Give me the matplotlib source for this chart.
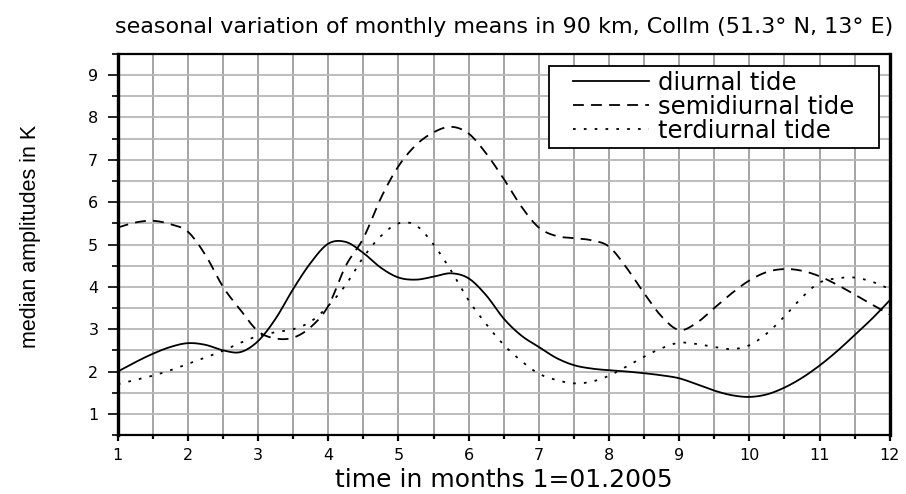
import numpy as np
import matplotlib
matplotlib.use("Agg")
import matplotlib.pyplot as plt
from matplotlib.ticker import MultipleLocator

months = np.arange(1.0, 12.01, 0.25)
diurnal = [2.00, 2.22, 2.42, 2.58, 2.67, 2.63, 2.50, 2.46, 2.72, 3.25, 3.95, 4.57,
           5.02, 5.06, 4.80, 4.45, 4.22, 4.17, 4.24, 4.32, 4.20, 3.80, 3.25, 2.85,
           2.58, 2.32, 2.15, 2.07, 2.03, 2.00, 1.96, 1.91, 1.84, 1.70, 1.55, 1.44,
           1.40, 1.46, 1.62, 1.85, 2.14, 2.48, 2.86, 3.25, 3.68]
semidiurnal = [5.40, 5.52, 5.56, 5.48, 5.30, 4.75, 4.00, 3.45, 2.95, 2.78, 2.80, 3.05,
               3.55, 4.50, 5.15, 6.10, 6.85, 7.35, 7.65, 7.78, 7.62, 7.15, 6.55, 5.90,
               5.40, 5.20, 5.15, 5.10, 4.95, 4.45, 3.85, 3.30, 2.98, 3.15, 3.50, 3.85,
               4.15, 4.35, 4.42, 4.38, 4.25, 4.05, 3.82, 3.58, 3.35]
terdiurnal = [1.70, 1.80, 1.90, 2.03, 2.18, 2.33, 2.49, 2.68, 2.84, 2.93, 3.00, 3.18,
              3.55, 4.05, 4.70, 5.20, 5.50, 5.45, 5.00, 4.38, 3.68, 3.12, 2.63, 2.25,
              1.95, 1.80, 1.72, 1.76, 1.90, 2.12, 2.35, 2.55, 2.68, 2.65, 2.58, 2.53,
              2.62, 2.90, 3.30, 3.75, 4.10, 4.20, 4.22, 4.12, 3.95]
labels = ["diurnal tide", "semidiurnal tide", "terdiurnal tide"]


def smooth_path(x, y, n=10):
    """Catmull-Rom curve through the read points (rendering only)."""
    x = np.asarray(x, float)
    y = np.asarray(y, float)
    px = np.concatenate([[2 * x[0] - x[1]], x, [2 * x[-1] - x[-2]]])
    py = np.concatenate([[2 * y[0] - y[1]], y, [2 * y[-1] - y[-2]]])
    t = np.linspace(0, 1, n, endpoint=False)[:, None]
    xs, ys = [], []
    for arr, out in ((px, xs), (py, ys)):
        p0, p1, p2, p3 = arr[:-3], arr[1:-2], arr[2:-1], arr[3:]
        seg = 0.5 * ((2 * p1) + (-p0 + p2) * t + (2 * p0 - 5 * p1 + 4 * p2 - p3) * t ** 2
                     + (-p0 + 3 * p1 - 3 * p2 + p3) * t ** 3)
        out.append(np.concatenate([seg.T.ravel(), [arr[-2]]]))
    return xs[0], ys[0]


plt.rcParams['font.family'] = ['DejaVu Sans']

fig = plt.figure(figsize=(9.06, 4.94), dpi=100)
ax = fig.add_axes([0.130, 0.1194, 0.852, 0.7713])

styles = ['-', (0, (6, 4)), (0, (1.5, 4.5))]
for series, ls, lab in zip([diurnal, semidiurnal, terdiurnal], styles, labels):
    sx, sy = smooth_path(months, series)
    ax.plot(sx, sy, color='black', lw=1.3, ls=ls, label=lab)

ax.set_xlim(1, 12)
ax.set_ylim(0.5, 9.5)
ax.xaxis.set_major_locator(MultipleLocator(1))
ax.xaxis.set_minor_locator(MultipleLocator(0.5))
ax.set_yticks([1, 2, 3, 4, 5, 6, 7, 8, 9])
ax.yaxis.set_minor_locator(MultipleLocator(0.5))

ax.grid(True, which='both', axis='x', color='#8c8c8c', lw=1.1)
ax.grid(True, which='both', axis='y', color='#b8b8b8', lw=1.3)
ax.set_axisbelow(True)

ax.spines['left'].set_linewidth(2.4)
ax.spines['right'].set_linewidth(2.4)
ax.spines['bottom'].set_linewidth(1.6)
ax.spines['top'].set_linewidth(1.6)

ax.tick_params(axis='y', which='major', direction='out', length=7.5, width=1.2,
               labelsize=11.5, pad=6.5)
ax.tick_params(axis='y', which='minor', direction='out', length=4, width=1.2)
ax.tick_params(axis='x', which='major', direction='out', length=4.2, width=1.6,
               labelsize=11.5, pad=5)
ax.tick_params(axis='x', which='minor', direction='out', length=2.6, width=1.6)

ax.set_title("seasonal variation of monthly means in 90 km, Collm (51.3° N, 13° E)",
             fontsize=16, pad=15)
ax.set_xlabel("time in months 1=01.2005", fontsize=18)
ax.xaxis.label.set_verticalalignment('baseline')
ax.xaxis.set_label_coords(0.5, -0.137)
ax.set_ylabel("median amplitudes in K", fontsize=15.5,
              family=['Liberation Sans Narrow', 'Liberation Sans', 'DejaVu Sans'])
ax.yaxis.set_label_coords(-0.100, 0.52)

leg = ax.legend(loc='upper right', bbox_to_anchor=(0.9547, 0.9554), fontsize=17.5,
                frameon=True, fancybox=False, edgecolor='black', framealpha=1,
                handlelength=3.1, handletextpad=0.4, borderpad=0.0, labelspacing=0.0,
                borderaxespad=0)
frame = leg.get_frame()
frame.set_linewidth(1.3)
frame.set_boxstyle('square', pad=1.0)
frame.set_mutation_aspect(0.2)

fig.savefig("out.png", dpi=100)
